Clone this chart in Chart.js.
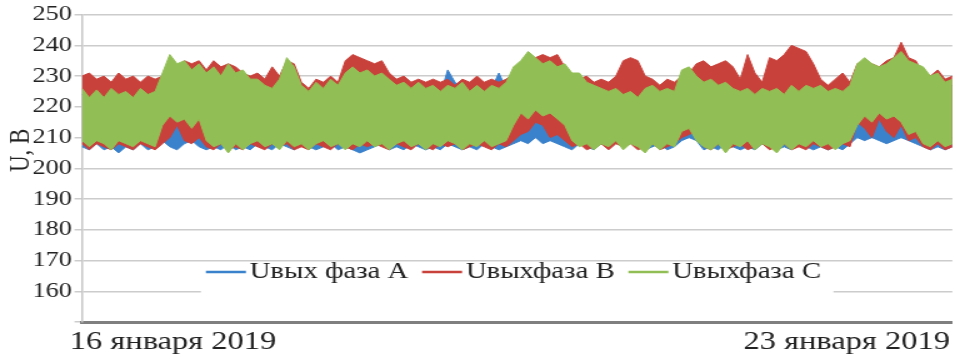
<!DOCTYPE html>
<html>
<head>
<meta charset="utf-8">
<script src="https://cdn.jsdelivr.net/npm/chart.js@4.4.1/dist/chart.umd.min.js"></script>
<style>
  html, body { margin: 0; padding: 0; background: #fff; width: 956px; height: 359px; overflow: hidden; }
  #wrap { width: 765px; height: 359px; transform: scaleX(1.25); transform-origin: 0 0; }
  canvas { display: block; }
</style>
</head>
<body>
<div id="wrap"><canvas id="chart" width="765" height="359"></canvas></div>
<script>
// Output voltage per phase, 15–24 January 2019.
// Each phase is stored as the upper and lower envelope of its readings per sampling interval.
const SERIES_NAMES = ['Uвых фаза А', 'Uвыхфаза В', 'Uвыхфаза С'];
const Y_TITLE = 'U, В';

// time axis: hours from 16 Jan 2019 00:00
const FIRST_SAMPLE_H = -22.7;
const SAMPLE_STEP_H = 1.824;
const TICK_HOURS = [0, 168];
const TICK_LABELS = ['16 января 2019', '23 января 2019'];

const phaseA_max = [
  224,223,225,224,223,225,224,223,224,225,
  224,229,233,231,232,230,231,229,230,228,
  231,229,230,227,228,225,224,226,232,230,
  225,224,226,224,227,225,228,229,228,230,
  228,229,227,225,226,224,226,224,225,224,
  232,228,226,224,225,224,226,231,226,230,
  232,234,233,232,233,231,231,229,228,226,
  226,225,224,225,223,224,222,224,225,224,
  225,224,229,230,228,226,227,225,226,224,
  224,225,223,224,223,224,223,225,224,225,
  224,225,223,224,223,225,231,233,231,230,
  231,233,234,232,231,230,228,229,226,227];
const phaseA_min = [
  207,206,208,206,207,205,207,206,208,206,
  207,209,207,206,208,209,207,206,207,206,
  208,206,207,206,208,207,206,208,207,206,
  208,207,206,207,208,206,207,206,205,206,
  207,208,206,207,206,208,207,206,207,206,
  208,207,206,207,206,208,207,206,207,208,
  209,208,210,208,209,208,207,206,208,207,
  206,208,207,210,208,209,207,206,207,208,
  206,207,209,210,209,206,207,206,208,207,
  206,207,206,208,207,206,207,206,208,207,
  206,207,206,207,206,208,210,209,210,209,
  208,209,210,209,208,207,206,207,206,207];

const phaseB_max = [
  230,231,229,230,228,231,229,230,228,230,
  229,230,234,233,235,234,235,232,235,233,
  234,233,231,230,231,229,233,230,235,234,
  228,226,229,228,230,228,235,237,236,235,
  234,235,231,229,230,228,229,228,229,228,
  229,227,229,228,230,228,229,228,229,231,
  232,234,236,237,236,237,233,230,229,230,
  228,229,228,230,235,236,235,230,229,227,
  229,228,230,231,234,235,233,234,235,233,
  229,237,231,228,236,235,237,240,239,238,
  234,229,227,229,231,228,234,235,234,233,
  235,236,241,236,235,231,230,232,229,230];
const phaseB_min = [
  208,206,208,207,206,208,207,206,208,207,
  206,208,210,214,209,208,210,207,206,208,
  206,207,206,208,207,206,208,207,208,206,
  207,206,208,207,206,208,207,206,208,207,
  208,207,206,208,207,206,208,207,206,208,
  207,208,206,207,208,207,206,208,207,209,
  211,212,215,214,210,211,209,207,208,206,
  207,208,206,208,207,208,206,207,208,206,
  207,208,210,211,212,207,206,208,206,207,
  208,206,207,208,206,207,208,206,207,206,
  208,207,206,207,208,207,215,213,210,216,
  212,210,214,209,210,207,206,208,206,207];

const phaseC_max = [
  226,223,225.5,223,226,224,225,223,226,224,
  225,231,237,234,235,232,234,231,233,230,
  234,231,232,229,229,227,226,229,236,233,
  227,225,228,226,229,227,231,233,231,232,
  230,231,229,227,228,226,228,226,227,225,
  227,226,228,225,227,225,227,226,228,233,
  235,238,236,234,235,233,234,231,231,228,
  227,226,225,226,224,225,223,226,227,225,
  226,225,232,233,230,228,229,227,228,226,
  225,226,224,226,225,226,224,227,225,227,
  226,227,225,226,225,227,234,236,234,233,
  234,236,238,235,234,233,230,231,228,229];
const phaseC_min = [
  209,207,209,208,206,209,208,207,209,208,
  207,214,217,215,216,213,216,209,207,208,
  205,208,206,208,209,207,208,206,209,207,
  208,206,208,209,207,208,206,208,207,209,
  207,208,206,208,209,207,208,206,208,207,
  209,208,206,208,207,209,207,208,209,214,
  218,216,219,217,218,216,214,209,207,208,
  206,208,207,209,206,208,207,205,208,206,
  208,207,212,213,209,207,206,208,205,208,
  207,209,206,208,207,205,208,206,208,207,
  209,207,208,206,208,209,214,217,215,218,
  216,217,215,211,212,208,207,209,207,208];

const COLORS = ['#3b82cc', '#c9413b', '#92bf55'];
const SERIF = '"Liberation Serif", "Times New Roman", serif';
const TEXT_COLOR = '#222222';

const toPoints = arr => arr.map((v, i) => ({ x: FIRST_SAMPLE_H + i * SAMPLE_STEP_H, y: v }));

function band(name, upper, lower, color, order) {
  return [
    { label: name, data: toPoints(upper), borderColor: color, backgroundColor: color,
      borderWidth: 1, pointRadius: 0, tension: 0, fill: '+1', order },
    { label: name + ' (min)', data: toPoints(lower), borderColor: color, backgroundColor: color,
      borderWidth: 1, pointRadius: 0, tension: 0, fill: false, order }
  ];
}

// phase C is drawn on top, phase A underneath
const datasets = [
  ...band(SERIES_NAMES[2], phaseC_max, phaseC_min, COLORS[2], 1),
  ...band(SERIES_NAMES[1], phaseB_max, phaseB_min, COLORS[1], 2),
  ...band(SERIES_NAMES[0], phaseA_max, phaseA_min, COLORS[0], 3)
];

const legendInside = {
  id: 'legendInside',
  afterDraw(chart) {
    const { ctx, chartArea } = chart;
    ctx.save();
    ctx.font = '23px ' + SERIF;
    const lineLen = 32, gapLT = 3, gapItems = 11;
    const widths = SERIES_NAMES.map(n => ctx.measureText(n).width);
    const total = widths.reduce((s, w) => s + lineLen + gapLT + w, 0) + gapItems * (SERIES_NAMES.length - 1);
    let x = (chartArea.left + chartArea.right) / 2 - total / 2 - 3;
    const cy = chartArea.bottom - 50;
    ctx.fillStyle = '#ffffff';
    ctx.fillRect(x - 4, cy - 9, total + 14, 31);
    ctx.textBaseline = 'middle';
    ctx.textAlign = 'left';
    SERIES_NAMES.forEach((name, k) => {
      ctx.strokeStyle = COLORS[k];
      ctx.lineWidth = 2.5;
      ctx.beginPath();
      ctx.moveTo(x, cy);
      ctx.lineTo(x + lineLen, cy);
      ctx.stroke();
      x += lineLen + gapLT;
      ctx.fillStyle = TEXT_COLOR;
      ctx.fillText(name, x, cy);
      x += widths[k] + gapItems;
    });
    ctx.restore();
  }
};

const yTitle = {
  id: 'yTitle',
  afterDraw(chart) {
    const { ctx, chartArea } = chart;
    ctx.save();
    ctx.font = '23px ' + SERIF;
    ctx.fillStyle = TEXT_COLOR;
    ctx.translate(17, (chartArea.top + chartArea.bottom) / 2 - 18);
    ctx.rotate(-Math.PI / 2);
    ctx.textAlign = 'center';
    ctx.textBaseline = 'middle';
    ctx.fillText(Y_TITLE, 0, 0);
    ctx.restore();
  }
};

new Chart(document.getElementById('chart'), {
  type: 'line',
  data: { datasets },
  plugins: [legendInside, yTitle],
  options: {
    responsive: false,
    devicePixelRatio: 1,
    animation: false,
    layout: { padding: { top: 14, left: 0, right: 0, bottom: 0 } },
    plugins: { legend: { display: false }, tooltip: { enabled: false } },
    scales: {
      x: {
        type: 'linear',
        min: FIRST_SAMPLE_H,
        max: FIRST_SAMPLE_H + (phaseC_max.length - 1) * SAMPLE_STEP_H,
        afterBuildTicks: s => { s.ticks = TICK_HOURS.map(v => ({ value: v })); },
        afterFit: s => { s.height = 37; },
        grid: { display: false, drawTicks: false },
        border: { color: '#7f7f7f', width: 3 },
        ticks: {
          autoSkip: false, maxRotation: 0, padding: 5, color: TEXT_COLOR,
          font: { family: SERIF, size: 26 },
          callback: v => { const k = TICK_HOURS.indexOf(v); return k >= 0 ? TICK_LABELS[k] : ''; }
        }
      },
      y: {
        min: 150, max: 250,
        afterFit: s => { s.width = 65.6; },
        grid: { color: '#cccccc', lineWidth: 1.5, tickLength: 6 },
        border: { color: '#c6c6c6', width: 1.5 },
        ticks: {
          stepSize: 10, padding: 2, color: TEXT_COLOR,
          font: { family: SERIF, size: 21 },
          callback: v => (v === 150 ? '' : v)
        }
      }
    }
  }
});
</script>
</body>
</html>
